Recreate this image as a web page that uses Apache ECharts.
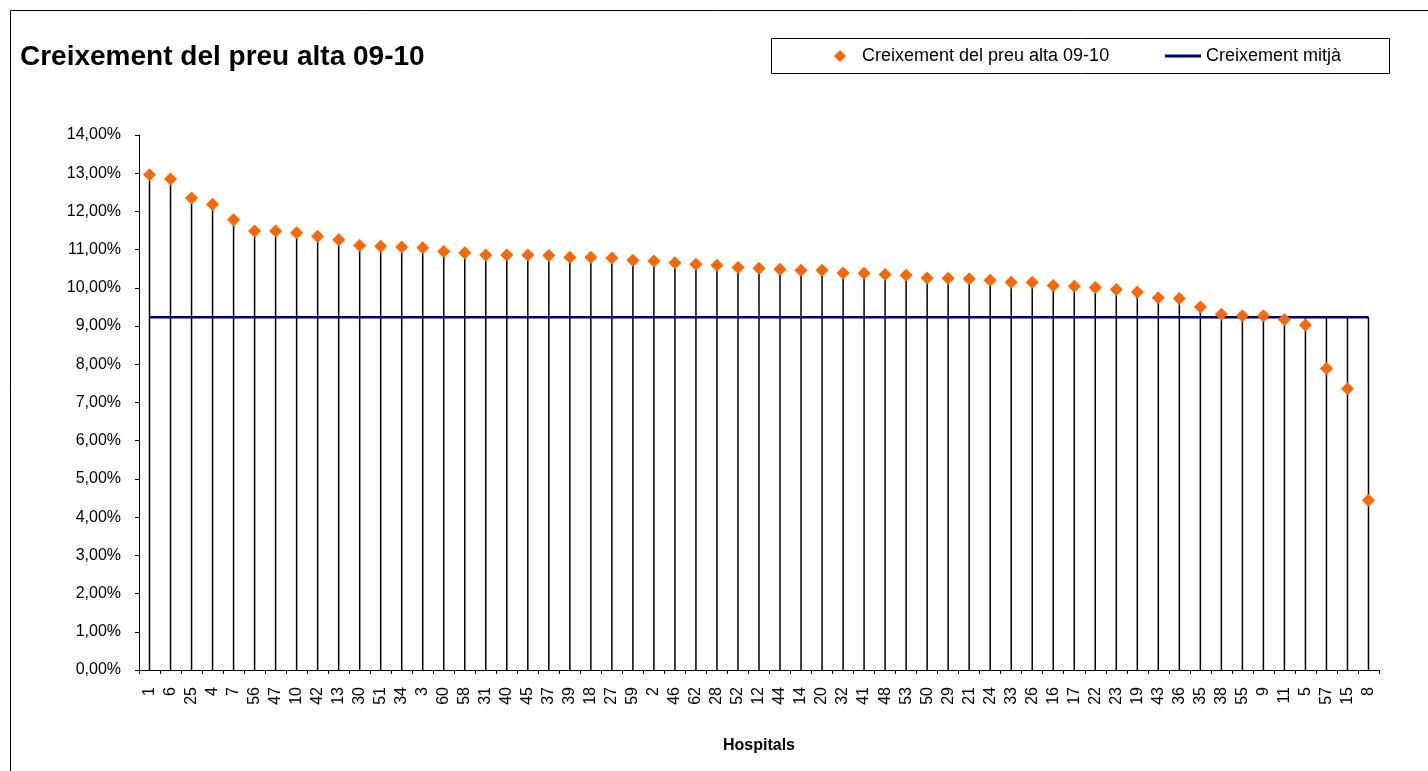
<!DOCTYPE html>
<html>
<head>
<meta charset="utf-8">
<title>Creixement del preu alta 09-10</title>
<script src="https://cdn.jsdelivr.net/npm/echarts@6.0.0/dist/echarts.min.js"></script>
<style>
  html, body { margin: 0; padding: 0; background: #fff; }
  #chart-container { width: 1428px; height: 771px; }
</style>
</head>
<body>
<div id="chart-container"></div>
<script>
// hospitals, sorted by growth (as in the original sheet)
var hospitals = ['1', '6', '25', '4', '7', '56', '47', '10', '42', '13',
  '30', '51', '34', '3', '60', '58', '31', '40', '45', '37',
  '39', '18', '27', '59', '2', '46', '62', '28', '52', '12',
  '44', '14', '20', '32', '41', '48', '53', '50', '29', '21',
  '24', '33', '26', '16', '17', '22', '23', '19', '43', '36',
  '35', '38', '55', '9', '11', '5', '57', '15', '8'];

// growth of price per discharge 09-10, in %
var growth = [12.96, 12.85, 12.35, 12.19, 11.78, 11.49, 11.49, 11.44, 11.35, 11.26,
  11.11, 11.09, 11.07, 11.05, 10.95, 10.92, 10.86, 10.86, 10.86, 10.85,
  10.80, 10.80, 10.78, 10.72, 10.70, 10.66, 10.62, 10.59, 10.53, 10.51,
  10.49, 10.46, 10.46, 10.39, 10.38, 10.35, 10.33, 10.26, 10.25, 10.24,
  10.20, 10.15, 10.15, 10.06, 10.04, 10.01, 9.96, 9.89, 9.74, 9.72,
  9.50, 9.31, 9.27, 9.27, 9.17, 9.03, 7.89, 7.36, 4.44];

var meanGrowth = 9.23;

var yTicks = { min: 0, max: 14, interval: 1 };

var FONT = 'Arial, "Liberation Sans", sans-serif';
var NAME_POINTS = 'Creixement del preu alta 09-10';
var NAME_MEAN = 'Creixement mitjà';

var meanLine = hospitals.map(function () { return meanGrowth; });
// excel style drop lines: from the axis up to the higher of the two series
var dropLines = growth.map(function (v) { return Math.max(v, meanGrowth); });

var dom = document.getElementById('chart-container');
var myChart = echarts.init(dom, null, {
  renderer: 'canvas',
  useDirtyRect: false
});

var option = {
  animation: false,
  backgroundColor: '#fff',
  textStyle: { fontFamily: FONT, color: '#000' },
  title: {
    text: 'Creixement del preu alta 09-10',
    left: 20,
    top: 43,
    padding: 0,
    textStyle: { fontFamily: FONT, fontSize: 28, fontWeight: 'bold', color: '#000' }
  },
  graphic: [
    {
      type: 'rect',
      silent: true,
      shape: { x: 10.5, y: 10.5, width: 1500, height: 900 },
      style: { fill: null, stroke: '#000', lineWidth: 1 }
    },
    {
      type: 'rect',
      silent: true,
      shape: { x: 771.5, y: 38.5, width: 618, height: 35 },
      style: { fill: null, stroke: '#000', lineWidth: 1 }
    }
  ],
  legend: [
    {
      data: [{ name: NAME_POINTS, icon: 'diamond' }],
      left: 834,
      top: 47,
      padding: 0,
      itemWidth: 12,
      itemHeight: 12,
      textStyle: { fontFamily: FONT, fontSize: 18, color: '#000', padding: [0, 0, 0, 11] }
    },
    {
      data: [{ name: NAME_MEAN, icon: 'rect' }],
      left: 1165,
      top: 47,
      padding: 0,
      itemWidth: 36,
      itemHeight: 3,
      textStyle: { fontFamily: FONT, fontSize: 18, color: '#000' }
    }
  ],
  grid: {
    left: 139,
    right: 49,
    top: 135,
    bottom: 101,
    containLabel: false
  },
  xAxis: {
    type: 'category',
    data: hospitals,
    boundaryGap: true,
    name: 'Hospitals',
    nameLocation: 'middle',
    nameGap: 68,
    nameTextStyle: { fontFamily: FONT, fontSize: 16, fontWeight: 'bold', color: '#000' },
    axisLine: { show: true, lineStyle: { color: '#000', width: 1 } },
    axisTick: { show: true, length: 4, lineStyle: { color: '#000' } },
    axisLabel: {
      interval: 0,
      rotate: 90,
      margin: 17,
      fontFamily: FONT,
      fontSize: 16,
      color: '#000'
    },
    splitLine: { show: false }
  },
  yAxis: {
    type: 'value',
    min: yTicks.min,
    max: yTicks.max,
    interval: yTicks.interval,
    axisLine: { show: true, lineStyle: { color: '#000', width: 1 } },
    axisTick: { show: true, length: 4, lineStyle: { color: '#000' } },
    axisLabel: {
      margin: 18,
      fontFamily: FONT,
      fontSize: 16,
      color: '#000',
      formatter: function (v) { return v.toFixed(2).replace('.', ',') + '%'; }
    },
    splitLine: { show: false }
  },
  series: [
    {
      name: 'drop',
      type: 'bar',
      data: dropLines,
      barWidth: 1.5,
      silent: true,
      z: 1,
      itemStyle: { color: '#000' }
    },
    {
      name: NAME_MEAN,
      type: 'line',
      data: meanLine,
      symbol: 'none',
      silent: true,
      z: 2,
      lineStyle: { color: '#000080', width: 2.5 },
      itemStyle: { color: '#000080' }
    },
    {
      name: NAME_POINTS,
      type: 'scatter',
      data: growth,
      symbol: 'diamond',
      symbolSize: 13,
      z: 3,
      itemStyle: { color: '#FF6600', opacity: 1 }
    }
  ]
};

if (option && typeof option === 'object') {
  myChart.setOption(option);
}

window.addEventListener('resize', myChart.resize);
</script>
</body>
</html>
